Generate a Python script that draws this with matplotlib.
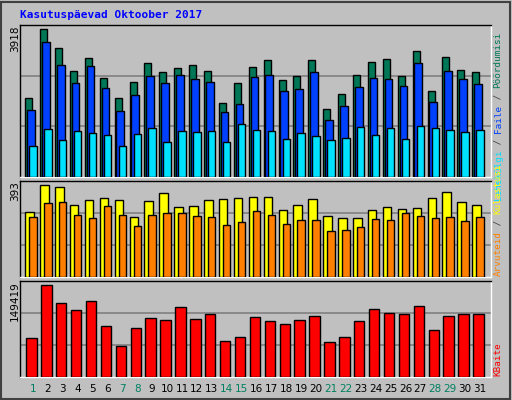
import matplotlib.pyplot as plt
import numpy as np

days = np.arange(1, 32)
weekend = [1, 7, 8, 14, 15, 21, 22, 28, 29]

# green / blue / cyan series (top panel)
poordumisi = [2024, 3806, 3315, 2721, 3057, 2540, 2024, 2437, 2928, 2695, 2799, 2876, 2721, 1920, 2411, 2824,
              3005, 2489, 2592, 3005, 1765, 2127, 2618, 2954, 3031, 2592, 3238, 2204, 3083, 2747, 2695]
faile = [1739, 3470, 2876, 2411, 2850, 2282, 1714, 2101, 2592, 2411, 2618, 2514, 2437, 1688, 1894, 2566,
         2618, 2204, 2256, 2695, 1481, 1843, 2308, 2540, 2514, 2334, 2928, 1946, 2721, 2514, 2385]
lehekulgi = [809, 1249, 964, 1197, 1145, 1094, 809, 1119, 1274, 913, 1197, 1171, 1197, 913, 1378, 1223,
             1197, 990, 1145, 1068, 964, 1016, 1300, 1094, 1274, 990, 1326, 1274, 1223, 1171, 1223]
# middle panel
kulastusi = [267, 378, 370, 296, 317, 325, 317, 247, 312, 345, 288, 292, 317, 321, 325, 329,
             329, 276, 296, 321, 251, 243, 243, 276, 288, 280, 284, 325, 349, 308, 296]
arvuteid = [247, 304, 308, 255, 243, 292, 255, 210, 255, 263, 263, 251, 247, 214, 227, 272,
            255, 218, 235, 235, 190, 194, 206, 239, 235, 263, 251, 243, 247, 231, 247]
# bottom panel
kbaite = [61218, 143708, 115692, 104798, 118805, 79895, 48767, 76782, 92346, 89234, 109467, 90790, 98572,
          56549, 62775, 93903, 87677, 83008, 89234, 95459, 54993, 62775, 87677, 106354, 100128, 98572,
          111023, 73670, 95459, 98572, 98572]
max1, max2, max3 = 3918, 393, 149419

W, H = 512, 400
fig = plt.figure(figsize=(W / 100, H / 100), dpi=100)
fig.patch.set_facecolor('#c0c0c0')
fig.patches.append(plt.Rectangle((1 / W, 1 / H), 1 - 3 / W, 1 - 3 / H, transform=fig.transFigure,
                                 fill=False, edgecolor='#404040', lw=1.5))

def panel(top, bottom):
    ax = fig.add_axes([20 / W, 1 - bottom / H, 471 / W, (bottom - top) / H])
    ax.set_facecolor('#c0c0c0')
    ax.set_xlim(0.13, 31.74)
    ax.set_xticks([])
    ax.set_yticks([])
    for s in ax.spines.values():
        s.set_linewidth(1)
    ax.spines['left'].set_color('black')
    ax.spines['top'].set_color('black')
    ax.spines['right'].set_color('white')
    ax.spines['bottom'].set_color('white')
    return ax

def bars(ax, vals, left, right, color):
    w = right - left
    ax.bar(days + left, vals, width=w, align='edge', color=color, edgecolor='black', linewidth=1, zorder=3)

ax1 = panel(25, 177)
ax1.set_ylim(0, max1)
for f in (1 / 3, 2 / 3):
    ax1.axhline(max1 * f, color='#808080', lw=1.2, zorder=1)
bars(ax1, poordumisi, -0.52, -0.05, '#007858')
bars(ax1, faile, -0.40, 0.12, '#0040ff')
bars(ax1, lehekulgi, -0.25, 0.25, '#00e0ff')

ax2 = panel(181, 277)
ax2.set_ylim(0, max2)
for f in (1 / 3, 2 / 3):
    ax2.axhline(max2 * f, color='#808080', lw=1.2, zorder=1)
bars(ax2, kulastusi, -0.52, 0.05, '#ffff00')
bars(ax2, arvuteid, -0.25, 0.25, '#ff8000')

ax3 = panel(281, 377)
ax3.set_ylim(0, max3)
for f in (1 / 3, 2 / 3):
    ax3.axhline(max3 * f, color='#808080', lw=1.2, zorder=1)
bars(ax3, kbaite, -0.45, 0.25, '#ff0000')

for d in days:
    ax3.text(d, -0.07, str(d), transform=ax3.get_xaxis_transform(), ha='center', va='top',
             fontsize=7.5, color='#008060' if d in weekend else 'black')

fig.text(20 / W, 1 - 15 / H, 'Kasutuspäevad Oktoober 2017', family='DejaVu Sans Mono', weight='bold',
         fontsize=8, color='#0000ff', va='center')

for y, lab in ((25, '3918'), (181, '393'), (281, '149419')):
    fig.text(15 / W, 1 - y / H, lab, rotation=90, ha='center', va='top', fontsize=7.5)

CH = 5.6  # px per character, monospace at 6.7pt

def vlabel(y0, pieces):
    y = y0
    for s, c in pieces:
        fig.text(498 / W, 1 - y / H, s, rotation=90, ha='center', va='bottom', fontsize=6.7,
                 family='DejaVu Sans Mono', color=c)
        y -= len(s) * CH

vlabel(200, [('Lehekülgi', '#00e0ff'), (' / ', '#404040'), ('Faile', '#0040ff'),
             (' / ', '#404040'), ('Pöördumisi', '#007858')])
vlabel(276, [('Arvuteid', '#ff8000'), (' / ', '#404040'), ('Külastusi', '#ffff00')])
vlabel(376, [('KBaite', '#ff0000')])

fig.savefig('out.png', dpi=100, facecolor=fig.get_facecolor())
